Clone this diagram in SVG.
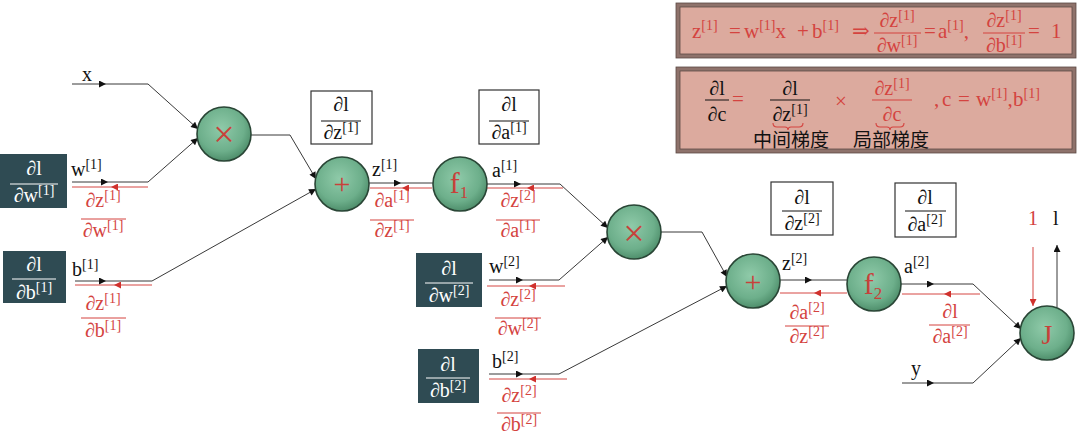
<svg xmlns="http://www.w3.org/2000/svg" width="1080" height="437" viewBox="0 0 1080 437">
<defs>
<radialGradient id="gn" cx="45%" cy="40%" r="60%">
<stop offset="0" stop-color="#8fcaa9"/>
<stop offset="0.7" stop-color="#6daf8b"/>
<stop offset="1" stop-color="#4f8f6c"/>
</radialGradient>
<marker id="ab" viewBox="0 0 10 10" refX="10" refY="5" markerWidth="8" markerHeight="7" markerUnits="userSpaceOnUse" orient="auto"><path d="M0,0 L10,5 L0,10 z" fill="#111"/></marker>
<marker id="ar" viewBox="0 0 10 10" refX="10" refY="5" markerWidth="8" markerHeight="7" markerUnits="userSpaceOnUse" orient="auto"><path d="M0,0 L10,5 L0,10 z" fill="#d0312d"/></marker>
</defs>
<style>
text{font-family:"Liberation Serif","DejaVu Serif",serif;font-size:20px;fill:#111}
.s{font-size:14px}
.e{font-size:21px}
.r{fill:#d4433f}
.w{fill:#ffffff}
.c{text-anchor:middle}
.cjk{font-family:"Noto Sans CJK SC",sans-serif;font-size:19px;fill:#111}
.fl{stroke:#111;stroke-width:1}
.flr{stroke:#d4433f;stroke-width:1}
.flw{stroke:#ffffff;stroke-width:1}
.node circle{fill:url(#gn);stroke:#2a4636;stroke-width:1.6}
.sym{fill:#c8413a;text-anchor:middle}
.dk{fill:#2f4b53}
.wb{fill:#ffffff;stroke:#333;stroke-width:1.2}
.fw{fill:none;stroke:#222;stroke-width:0.9}
.bw{fill:none;stroke:#d0312d;stroke-width:0.9}
.eq{fill:#dcaa9e;stroke:#8e726b;stroke-width:4}
.eqi{fill:none;stroke:#5c4a45;stroke-width:0.8}
.brace{fill:none;stroke:#d4433f;stroke-width:1.1}
</style>
<rect width="1080" height="437" fill="#ffffff"/>

<!-- equation box 1 -->
<g id="eq1">
<rect class="eq" x="678" y="5" width="396" height="51"/>
<rect class="eqi" x="676" y="3" width="400" height="55"/>
<rect class="eqi" x="680" y="7" width="392" height="47"/>
<text class="r e" x="692" y="38">z<tspan class="s" dy="-8">[1]</tspan></text>
<text class="r e" x="729" y="38">=</text>
<text class="r e" x="744" y="38">w<tspan class="s" dy="-8">[1]</tspan><tspan dy="8">x</tspan></text>
<text class="r e" x="797" y="38">+</text>
<text class="r e" x="812" y="38">b<tspan class="s" dy="-8">[1]</tspan></text>
<text class="r e" x="852" y="38">⇒</text>
<text class="r c" x="897" y="27">∂z<tspan class="s" dy="-7">[1]</tspan></text>
<line class="flr" x1="874" y1="33" x2="921" y2="33"/>
<text class="r c" x="897" y="52">∂w<tspan class="s" dy="-7">[1]</tspan></text>
<text class="r e" x="924" y="38">=</text>
<text class="r e" x="938" y="38">a<tspan class="s" dy="-8">[1]</tspan><tspan dy="8">,</tspan></text>
<text class="r c" x="1004" y="27">∂z<tspan class="s" dy="-7">[1]</tspan></text>
<line class="flr" x1="983" y1="33" x2="1025" y2="33"/>
<text class="r c" x="1004" y="52">∂b<tspan class="s" dy="-7">[1]</tspan></text>
<text class="r e" x="1028" y="38">=</text>
<text class="r e" x="1051" y="38">1</text>
</g>

<!-- equation box 2 -->
<g id="eq2">
<rect class="eq" x="678" y="69" width="396" height="82"/>
<rect class="eqi" x="676" y="67" width="400" height="86"/>
<rect class="eqi" x="680" y="71" width="392" height="78"/>
<text class="c" x="717" y="95">∂l</text>
<line class="fl" x1="705" y1="100" x2="729" y2="100"/>
<text class="c" x="717" y="121">∂c</text>
<text class="r e" x="732" y="106">=</text>
<text class="c" x="790" y="95">∂l</text>
<line class="fl" x1="770" y1="100" x2="810" y2="100"/>
<text class="c" x="790" y="121">∂z<tspan class="s" dy="-7">[1]</tspan></text>
<path class="brace" d="M773,123 Q773,127 777,127 L785,127 Q788,127 788,130 Q788,127 791,127 L799,127 Q803,127 803,123"/>
<text class="r e" x="835" y="108">×</text>
<text class="r c" x="892" y="95">∂z<tspan class="s" dy="-7">[1]</tspan></text>
<line class="flr" x1="872" y1="100" x2="912" y2="100"/>
<text class="r c" x="892" y="121">∂c</text>
<path class="brace" d="M876,123 Q876,127 880,127 L887,127 Q890,127 890,130 Q890,127 893,127 L900,127 Q904,127 904,123"/>
<text class="r e" x="934" y="106">,</text>
<text class="r e" x="942" y="106">c</text>
<text class="r e" x="958" y="106">=</text>
<text class="r e" x="976" y="106">w<tspan class="s" dy="-8">[1]</tspan><tspan dy="8">,</tspan></text>
<text class="r e" x="1013" y="106">b<tspan class="s" dy="-8">[1]</tspan></text>
<text class="cjk" x="753" y="147">中间梯度</text>
<text class="cjk" x="853" y="147">局部梯度</text>
</g>

<!-- connectors -->
<g id="connectors">
<!-- forward -->
<path class="fw" d="M72,84 H106" marker-end="url(#ab)"/>
<path class="fw" d="M106,84 H148 L198,129" marker-end="url(#ab)"/>
<path class="fw" d="M72,182 H108" marker-end="url(#ab)"/>
<path class="fw" d="M108,182 H148 L198,138" marker-end="url(#ab)"/>
<path class="fw" d="M75,281 H106" marker-end="url(#ab)"/>
<path class="fw" d="M106,281 H152 L316,189" marker-end="url(#ab)"/>
<path class="fw" d="M251,135 H290 L316,179" marker-end="url(#ab)"/>
<path class="fw" d="M369,183 H401" marker-end="url(#ab)"/>
<path class="fw" d="M401,183 H433"/>
<path class="fw" d="M487,184 H521" marker-end="url(#ab)"/>
<path class="fw" d="M521,184 H560 L608,228" marker-end="url(#ab)"/>
<path class="fw" d="M489,280 H523" marker-end="url(#ab)"/>
<path class="fw" d="M523,280 H559 L608,237" marker-end="url(#ab)"/>
<path class="fw" d="M489,374 H523" marker-end="url(#ab)"/>
<path class="fw" d="M523,374 H559 L727,286" marker-end="url(#ab)"/>
<path class="fw" d="M661,232 H702 L727,277" marker-end="url(#ab)"/>
<path class="fw" d="M780,280 H812" marker-end="url(#ab)"/>
<path class="fw" d="M812,280 H847"/>
<path class="fw" d="M901,284 H934" marker-end="url(#ab)"/>
<path class="fw" d="M934,284 H973 L1021,329" marker-end="url(#ab)"/>
<path class="fw" d="M902,383 H934" marker-end="url(#ab)"/>
<path class="fw" d="M934,383 H973 L1021,338" marker-end="url(#ab)"/>
<path class="fw" d="M1057,307 V245" marker-end="url(#ab)"/>
<!-- backward -->
<path class="bw" d="M148,187 H111" marker-end="url(#ar)"/>
<path class="bw" d="M111,187 H72"/>
<path class="bw" d="M152,285 H114" marker-end="url(#ar)"/>
<path class="bw" d="M114,285 H75"/>
<path class="bw" d="M432,188 H402" marker-end="url(#ar)"/>
<path class="bw" d="M402,188 H370"/>
<path class="bw" d="M563,188 H527" marker-end="url(#ar)"/>
<path class="bw" d="M527,188 H487"/>
<path class="bw" d="M565,286 H529" marker-end="url(#ar)"/>
<path class="bw" d="M529,286 H487"/>
<path class="bw" d="M567,379 H529" marker-end="url(#ar)"/>
<path class="bw" d="M529,379 H489"/>
<path class="bw" d="M847,293 H814" marker-end="url(#ar)"/>
<path class="bw" d="M814,293 H780"/>
<path class="bw" d="M980,294 H944" marker-end="url(#ar)"/>
<path class="bw" d="M944,294 H902"/>
<path class="bw" d="M1033,247 V306" marker-end="url(#ar)"/>
</g>

<!-- input/output labels -->
<g id="labels">
<text x="82" y="81">x</text>
<text x="71" y="176">w<tspan class="s" dy="-7">[1]</tspan></text>
<text x="72" y="276">b<tspan class="s" dy="-7">[1]</tspan></text>
<text x="372" y="176">z<tspan class="s" dy="-7">[1]</tspan></text>
<text x="492" y="177">a<tspan class="s" dy="-7">[1]</tspan></text>
<text x="489" y="273">w<tspan class="s" dy="-7">[2]</tspan></text>
<text x="492" y="368">b<tspan class="s" dy="-7">[2]</tspan></text>
<text x="782" y="270">z<tspan class="s" dy="-7">[2]</tspan></text>
<text x="904" y="273">a<tspan class="s" dy="-7">[2]</tspan></text>
<text x="911" y="375">y</text>
<text class="r" x="1028" y="225">1</text>
<text x="1053" y="225">l</text>
</g>

<!-- local gradients (red) -->
<g id="local-grads">
<g><text class="r c" x="103" y="207">∂z<tspan class="s" dy="-7">[1]</tspan></text><line class="flr" x1="81" y1="219" x2="126" y2="219"/><text class="r c" x="103" y="237">∂w<tspan class="s" dy="-7">[1]</tspan></text></g>
<g><text class="r c" x="103" y="310">∂z<tspan class="s" dy="-7">[1]</tspan></text><line class="flr" x1="81" y1="318" x2="126" y2="318"/><text class="r c" x="103" y="337">∂b<tspan class="s" dy="-7">[1]</tspan></text></g>
<g><text class="r c" x="392" y="207">∂a<tspan class="s" dy="-7">[1]</tspan></text><line class="flr" x1="370" y1="220" x2="414" y2="220"/><text class="r c" x="392" y="237">∂z<tspan class="s" dy="-7">[1]</tspan></text></g>
<g><text class="r c" x="518" y="207">∂z<tspan class="s" dy="-7">[2]</tspan></text><line class="flr" x1="496" y1="220" x2="540" y2="220"/><text class="r c" x="518" y="237">∂a<tspan class="s" dy="-7">[1]</tspan></text></g>
<g><text class="r c" x="518" y="306">∂z<tspan class="s" dy="-7">[2]</tspan></text><line class="flr" x1="495" y1="318" x2="541" y2="318"/><text class="r c" x="518" y="335">∂w<tspan class="s" dy="-7">[2]</tspan></text></g>
<g><text class="r c" x="519" y="402">∂z<tspan class="s" dy="-7">[2]</tspan></text><line class="flr" x1="497" y1="413" x2="541" y2="413"/><text class="r c" x="519" y="431">∂b<tspan class="s" dy="-7">[2]</tspan></text></g>
<g><text class="r c" x="807" y="319">∂a<tspan class="s" dy="-7">[2]</tspan></text><line class="flr" x1="785" y1="326" x2="829" y2="326"/><text class="r c" x="807" y="343">∂z<tspan class="s" dy="-7">[2]</tspan></text></g>
<g><text class="r c" x="950" y="318">∂l</text><line class="flr" x1="929" y1="325" x2="970" y2="325"/><text class="r c" x="950" y="343">∂a<tspan class="s" dy="-7">[2]</tspan></text></g>
</g>

<!-- upstream gradient boxes -->
<g id="box-dz1"><rect class="wb" x="311" y="91" width="61" height="53"/><text class="c" x="341" y="111">∂l</text><line class="fl" x1="321" y1="121" x2="361" y2="121"/><text class="c" x="341" y="139">∂z<tspan class="s" dy="-7">[1]</tspan></text></g>
<g id="box-da1"><rect class="wb" x="479" y="90" width="60" height="54"/><text class="c" x="509" y="111">∂l</text><line class="fl" x1="489" y1="121" x2="529" y2="121"/><text class="c" x="509" y="139">∂a<tspan class="s" dy="-7">[1]</tspan></text></g>
<g id="box-dz2"><rect class="wb" x="771" y="182" width="62" height="53"/><text class="c" x="802" y="204">∂l</text><line class="fl" x1="782" y1="211" x2="822" y2="211"/><text class="c" x="802" y="230">∂z<tspan class="s" dy="-7">[2]</tspan></text></g>
<g id="box-da2"><rect class="wb" x="895" y="183" width="61" height="54"/><text class="c" x="925" y="204">∂l</text><line class="fl" x1="905" y1="211" x2="946" y2="211"/><text class="c" x="925" y="231">∂a<tspan class="s" dy="-7">[2]</tspan></text></g>

<!-- parameter gradient boxes -->
<g id="box-dw1"><rect class="dk" x="0" y="154" width="67" height="54"/><text class="w c" x="34" y="175">∂l</text><line class="flw" x1="10" y1="184" x2="58" y2="184"/><text class="w c" x="34" y="202">∂w<tspan class="s" dy="-7">[1]</tspan></text></g>
<g id="box-db1"><rect class="dk" x="3" y="251" width="63" height="52"/><text class="w c" x="34" y="271">∂l</text><line class="flw" x1="12" y1="279" x2="56" y2="279"/><text class="w c" x="34" y="299">∂b<tspan class="s" dy="-7">[1]</tspan></text></g>
<g id="box-dw2"><rect class="dk" x="416" y="253" width="66" height="54"/><text class="w c" x="449" y="275">∂l</text><line class="flw" x1="425" y1="283" x2="473" y2="283"/><text class="w c" x="449" y="302">∂w<tspan class="s" dy="-7">[2]</tspan></text></g>
<g id="box-db2"><rect class="dk" x="418" y="349" width="61" height="54"/><text class="w c" x="448" y="371">∂l</text><line class="flw" x1="426" y1="378" x2="470" y2="378"/><text class="w c" x="448" y="397">∂b<tspan class="s" dy="-7">[2]</tspan></text></g>

<!-- compute nodes -->
<g id="n-mul1" class="node"><circle cx="224" cy="134" r="27"/><text class="sym" x="224" y="147" style="font-size:38px">×</text></g>
<g id="n-add1" class="node"><circle cx="342" cy="184" r="27"/><text class="sym" x="342" y="194" style="font-size:30px">+</text></g>
<g id="n-f1" class="node"><circle cx="460" cy="184" r="27"/><text class="sym" x="459" y="193" style="font-size:30px">f<tspan style="font-size:17px" dy="5">1</tspan></text></g>
<g id="n-mul2" class="node"><circle cx="634" cy="232" r="27"/><text class="sym" x="634" y="246" style="font-size:38px">×</text></g>
<g id="n-add2" class="node"><circle cx="753" cy="281" r="27"/><text class="sym" x="753" y="292" style="font-size:30px">+</text></g>
<g id="n-f2" class="node"><circle cx="874" cy="284" r="27"/><text class="sym" x="873" y="294" style="font-size:30px">f<tspan style="font-size:17px" dy="5">2</tspan></text></g>
<g id="n-J" class="node"><circle cx="1047" cy="333" r="27"/><text class="sym" x="1047" y="344" style="font-size:28px">J</text></g>
</svg>
